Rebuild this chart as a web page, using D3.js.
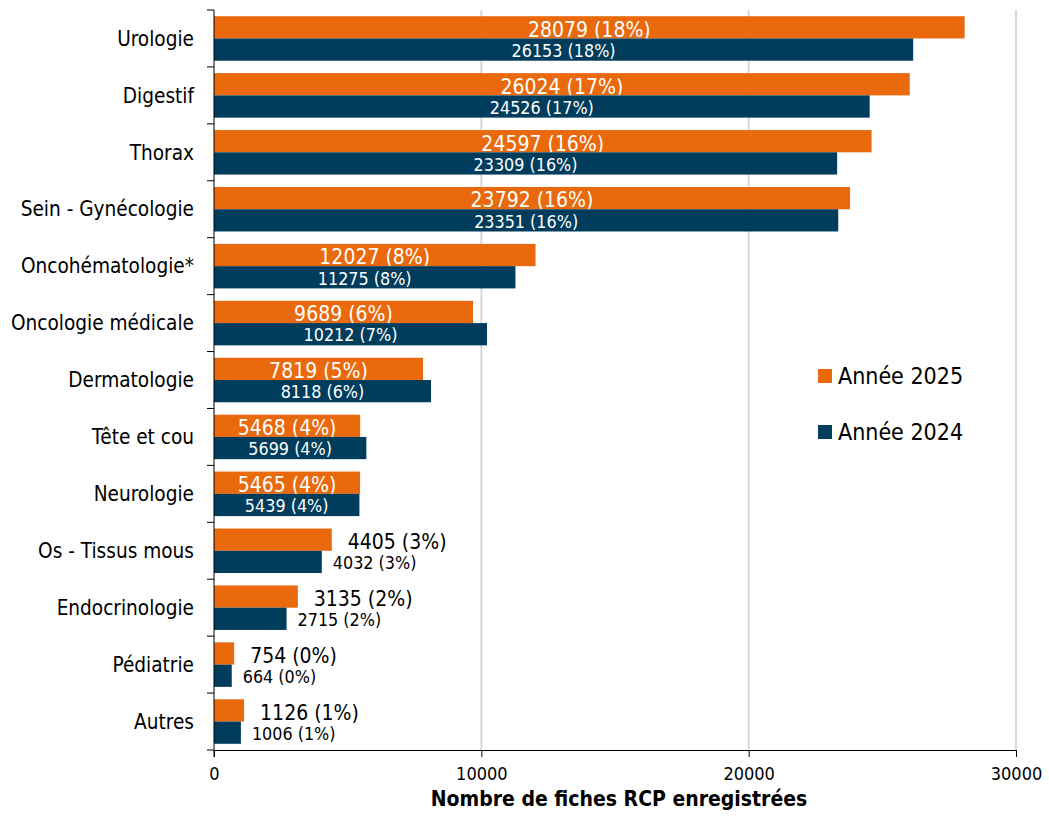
<!DOCTYPE html>
<html>
<head>
<meta charset="utf-8">
<script src="https://cdn.jsdelivr.net/npm/d3@7"></script>
<style>
  html, body { margin: 0; padding: 0; background: #fff; }
  svg text { font-family: "DejaVu Sans Condensed", "DejaVu Sans", sans-serif; font-stretch: condensed; }
</style>
</head>
<body>
<svg id="chart" width="1049" height="819"></svg>
<script>
const categories = ["Urologie", "Digestif", "Thorax", "Sein - Gynécologie", "Oncohématologie*",
  "Oncologie médicale", "Dermatologie", "Tête et cou", "Neurologie", "Os - Tissus mous",
  "Endocrinologie", "Pédiatrie", "Autres"];
const values2025 = [28079, 26024, 24597, 23792, 12027, 9689, 7819, 5468, 5465, 4405, 3135, 754, 1126];
const values2024 = [26153, 24526, 23309, 23351, 11275, 10212, 8118, 5699, 5439, 4032, 2715, 664, 1006];
const pct2025 = [18, 17, 16, 16, 8, 6, 5, 4, 4, 3, 2, 0, 1];
const pct2024 = [18, 17, 16, 16, 8, 7, 6, 4, 4, 3, 2, 0, 1];
const seriesNames = ["Année 2025", "Année 2024"];
const xTicks = [0, 10000, 20000, 30000];
const xTitle = "Nombre de fiches RCP enregistrées";

const colors = ["#e9690c", "#003d5c"];
const svg = d3.select("#chart");
const mLeft = 214, mRight = 1016, mTop = 10, mBottom = 750;

const x = d3.scaleLinear().domain([0, 30000]).range([mLeft, mRight]);
const y = d3.scaleBand().domain(categories).range([mTop, mBottom]).paddingInner(0.218).paddingOuter(0.109);
const ySub = d3.scaleBand().domain([0, 1]).range([0, y.bandwidth()]);

// gridlines
svg.append("g").selectAll("line").data(xTicks.filter(d => d > 0)).join("line")
  .attr("x1", d => x(d)).attr("x2", d => x(d))
  .attr("y1", mTop).attr("y2", mBottom)
  .attr("stroke", "#d9d9d9").attr("stroke-width", 2);

const series = [values2025, values2024];
const pcts = [pct2025, pct2024];
const fontSizes = [21, 17.8];
const outsideGap = [16, 11];
const dyOffsets = [2, 1];

series.forEach((vals, s) => {
  const g = svg.append("g");
  g.selectAll("rect").data(categories).join("rect")
    .attr("x", x(0))
    .attr("y", (c) => y(c) + ySub(s))
    .attr("width", (c, i) => x(vals[i]) - x(0))
    .attr("height", ySub.bandwidth())
    .attr("fill", colors[s]);
  g.selectAll("text").data(categories).join("text")
    .attr("x", (c, i) => vals[i] >= 5000 ? (x(0) + x(vals[i])) / 2 : x(vals[i]) + outsideGap[s])
    .attr("y", c => y(c) + ySub(s) + ySub.bandwidth() / 2 + dyOffsets[s])
    .attr("dy", "0.35em")
    .attr("text-anchor", (c, i) => vals[i] >= 5000 ? "middle" : "start")
    .attr("fill", (c, i) => vals[i] >= 5000 ? "#ffffff" : "#000000")
    .style("font-size", fontSizes[s] + "px")
    .text((c, i) => `${vals[i]} (${pcts[s][i]}%)`);
});

// y axis
const yAxis = d3.axisLeft(y).tickSize(0).tickPadding(20);
const yg = svg.append("g").attr("transform", `translate(${mLeft},0)`).call(yAxis);
yg.select(".domain").remove();
yg.selectAll("text").style("font-size", "20.6px").attr("fill", "#000").attr("dy", "0.35em");
// category boundary ticks
const bounds = d3.range(categories.length + 1).map(i => mTop + i * y.step());
svg.append("g").selectAll("line").data(bounds).join("line")
  .attr("x1", mLeft - 7).attr("x2", mLeft).attr("y1", d => d).attr("y2", d => d)
  .attr("stroke", "#000").attr("stroke-width", 1);
svg.append("line").attr("x1", mLeft).attr("x2", mLeft).attr("y1", mTop).attr("y2", mBottom + 7)
  .attr("stroke", "#000").attr("stroke-width", 1);

// x axis
const xAxis = d3.axisBottom(x).tickValues(xTicks).tickFormat(d3.format("d")).tickSize(7).tickPadding(10);
const xg = svg.append("g").attr("transform", `translate(0,${mBottom})`).call(xAxis);
xg.select(".domain").attr("d", `M${mLeft},0.5H${mRight}`).attr("stroke", "#000");
xg.selectAll(".tick line").attr("stroke", "#000");
xg.selectAll("text").style("font-size", "18px").attr("fill", "#000");

svg.append("text").attr("x", (mLeft + mRight) / 2 + 4).attr("y", 806)
  .attr("text-anchor", "middle").style("font-size", "21px").style("font-weight", "bold")
  .text(xTitle);

// legend
const lg = svg.append("g");
seriesNames.forEach((name, s) => {
  const ly = 376 + s * 56;
  lg.append("rect").attr("x", 818).attr("y", ly - 7).attr("width", 14).attr("height", 14).attr("fill", colors[s]);
  lg.append("text").attr("x", 838).attr("y", ly).attr("dy", "0.35em").style("font-size", "23px").text(name);
});
</script>
</body>
</html>
